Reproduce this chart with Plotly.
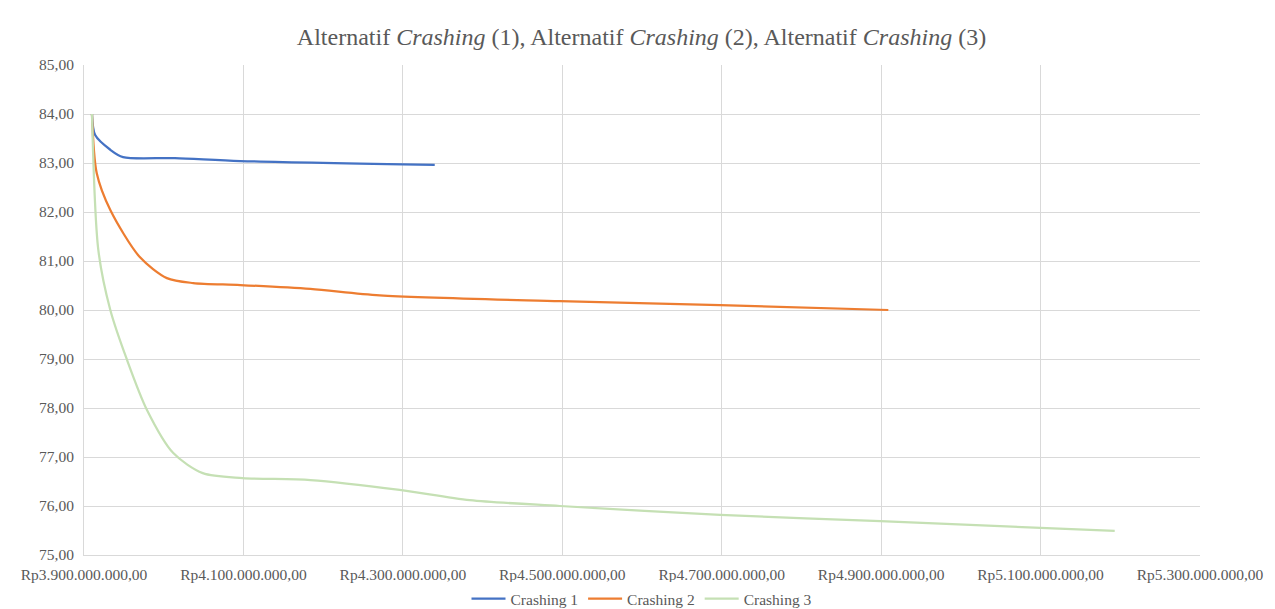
import plotly.graph_objects as go

# Data (cost in Rp, duration)
c1_cost = [3.910e9, 3.914e9, 3.933e9, 3.949e9, 4.014e9, 4.096e9, 4.340e9]
c1_dur = [84.00, 83.57, 83.27, 83.12, 83.10, 83.04, 82.96]

c2_cost = [3.910e9, 3.916e9, 3.933e9, 3.970e9, 4.004e9, 4.037e9, 4.096e9, 4.184e9,
           4.271e9, 4.497e9, 4.698e9, 4.909e9]
c2_dur = [84.00, 82.79, 82.04, 81.08, 80.65, 80.55, 80.51, 80.43,
          80.30, 80.18, 80.10, 80.00]

c3_cost = [3.910e9, 3.918e9, 3.933e9, 3.954e9, 3.979e9, 4.012e9, 4.049e9, 4.099e9,
           4.184e9, 4.296e9, 4.384e9, 4.497e9, 4.698e9, 4.899e9, 5.193e9]
c3_dur = [84.00, 81.22, 80.00, 78.98, 77.96, 77.08, 76.67, 76.57,
          76.53, 76.33, 76.12, 76.00, 75.82, 75.69, 75.49]

names = ["Crashing 1", "Crashing 2", "Crashing 3"]
colors = ["#4472C4", "#ED7D31", "#C5E0B4"]

fig = go.Figure()
for name, xs, ys, col in zip(names, [c1_cost, c2_cost, c3_cost],
                             [c1_dur, c2_dur, c3_dur], colors):
    fig.add_trace(go.Scatter(x=xs, y=ys, mode="lines", name=name,
                             line=dict(color=col, width=2.25, shape="spline", smoothing=0.8)))

font_family = "Liberation Serif"
W, H = 1267, 601
L, R, T, B = 76, 75, 57, 54
PW, PH = W - L - R, H - T - B
fig.update_layout(
    width=W, height=H,
    paper_bgcolor="white", plot_bgcolor="white",
    separators=",.",
    margin=dict(l=L, r=R, t=T, b=B, autoexpand=False),
    title=dict(text="Alternatif <i>Crashing</i> (1), Alternatif <i>Crashing</i> (2), Alternatif <i>Crashing</i> (3)",
               x=0.5, xanchor="center", y=1 - 29 / H, yanchor="middle",
               font=dict(family=font_family, size=24, color="#595959")),
    font=dict(family=font_family, size=15.5, color="#595959"),
    legend=dict(orientation="h", x=0.5, xanchor="center", y=-44 / PH, yanchor="middle",
                font=dict(family=font_family, size=15.5, color="#595959"),
                itemwidth=34, tracegroupgap=0),
    xaxis=dict(range=[3.9e9, 5.3e9], tick0=3.9e9, dtick=2e8, tickprefix="Rp",
               tickformat=",.2f", showgrid=True, gridcolor="#D9D9D9", gridwidth=1,
               zeroline=False, showline=True, linecolor="#D9D9D9", ticks="",
               ticklabelstandoff=5,
               tickfont=dict(family=font_family, size=15.5, color="#595959")),
    yaxis=dict(range=[75, 85], dtick=1, tickformat=".2f", showgrid=True,
               gridcolor="#D9D9D9", gridwidth=1, zeroline=False, showline=True,
               linecolor="#D9D9D9", ticks="", ticklabelstandoff=6,
               tickfont=dict(family=font_family, size=15.5, color="#595959")),
    shapes=[dict(type="line", xref="paper", yref="paper", x0=-77 / PW, x1=-77 / PW,
                 y0=-B / PH, y1=1 + T / PH, line=dict(color="#D9D9D9", width=1))],
)

fig.write_html("out.html")
